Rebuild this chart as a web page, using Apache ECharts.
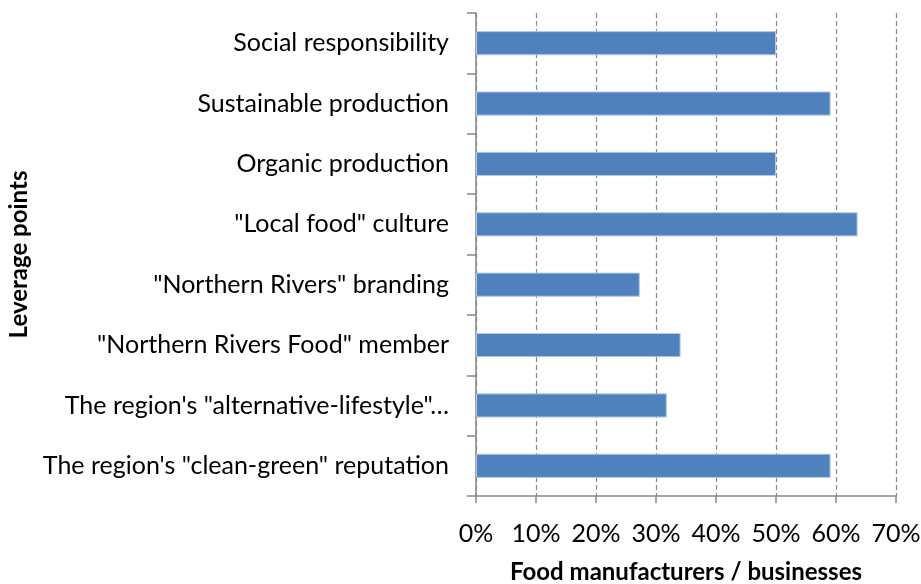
<!DOCTYPE html>
<html>
<head>
<meta charset="utf-8">
<script src="https://cdn.jsdelivr.net/npm/echarts@6/dist/echarts.min.js"></script>
<style>
  html, body { margin: 0; padding: 0; background: #fff; }
  #chart { width: 921px; height: 584px; }
</style>
</head>
<body>
<div id="chart"></div>
<script>
// Leverage points, listed top to bottom
const categories = [
  'Social responsibility',
  'Sustainable production',
  'Organic production',
  '"Local food" culture',
  '"Northern Rivers" branding',
  '"Northern Rivers Food" member',
  'The region\'s "alternative-lifestyle"\u2026',
  'The region\'s "clean-green" reputation'
];

// Share of food manufacturers / businesses (%)
const shares = [50.0, 59.1, 50.0, 63.6, 27.3, 34.1, 31.8, 59.1];

// Percent axis ticks
const xTicks = { min: 0, max: 70, interval: 10 };

const font = 'Lato, "Open Sans", sans-serif';
const axisGrey = '#868686';

const chart = echarts.init(document.getElementById('chart'), null, { renderer: 'canvas' });

chart.setOption({
  animation: false,
  backgroundColor: '#ffffff',
  grid: {
    left: 476, right: 25, top: 13, bottom: 88,
    containLabel: false,
    outerBoundsMode: 'none'
  },
  xAxis: {
    type: 'value',
    min: xTicks.min,
    max: xTicks.max,
    interval: xTicks.interval,
    name: 'Food manufacturers / businesses',
    nameLocation: 'middle',
    nameGap: 64,
    nameTextStyle: { fontFamily: font, fontSize: 24, fontWeight: 'bold', color: '#000' },
    axisLine: { show: true, lineStyle: { color: axisGrey, width: 1.5 } },
    axisTick: { show: true, length: 7, lineStyle: { color: axisGrey, width: 1.5 } },
    axisLabel: {
      fontFamily: font, fontSize: 25, color: '#000', margin: 25,
      formatter: v => v + '%'
    },
    splitLine: { show: true, lineStyle: { color: '#8c8c8c', type: [5, 3], width: 1.2 } }
  },
  yAxis: {
    type: 'category',
    data: categories,
    inverse: true,
    name: 'Leverage points',
    nameLocation: 'middle',
    nameGap: 445,
    nameRotate: 90,
    nameTextStyle: { fontFamily: font, fontSize: 24, fontWeight: 'bold', color: '#000' },
    axisLine: { show: true, lineStyle: { color: axisGrey, width: 1.5 } },
    axisTick: { show: true, length: 9, alignWithLabel: false, lineStyle: { color: axisGrey, width: 1.5 } },
    axisLabel: { fontFamily: font, fontSize: 25, color: '#000', margin: 27 },
    splitLine: { show: false }
  },
  series: [{
    type: 'bar',
    data: shares,
    barCategoryGap: '60%',
    itemStyle: { color: '#4F81BD', borderColor: '#b3c8e4', borderWidth: 1 },
    silent: true
  }]
});
</script>
</body>
</html>
